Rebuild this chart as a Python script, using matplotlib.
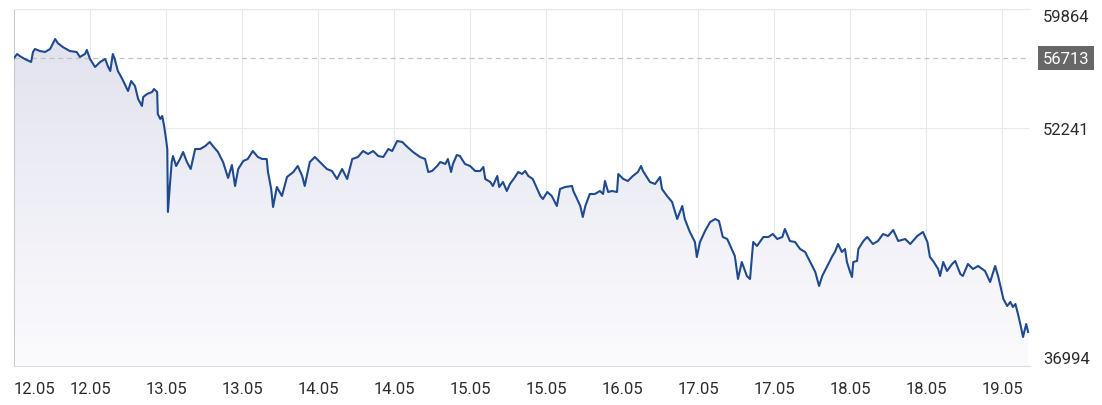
import matplotlib.pyplot as plt
import matplotlib.transforms as mtransforms
import numpy as np

# Hours since the start of the window (12.05 00:00) and the price at that time
hours = [
    0.0, 0.5, 0.9, 1.7, 2.7, 3.0, 3.3, 4.1, 4.9, 5.7, 6.5, 6.9, 7.7, 8.8, 9.9,
    10.4, 11.2, 11.5, 12.0, 12.8, 13.6, 14.4, 14.8, 15.2, 15.6, 15.9, 16.4, 17.1,
    17.7, 18.0, 18.5, 19.1, 19.6, 20.2, 20.4, 21.0, 21.8, 22.1, 22.6, 22.7, 23.1,
    23.4, 23.7, 24.0, 24.2, 24.3, 24.6, 24.9, 25.1, 25.6, 26.2, 26.7, 27.3, 27.9,
    28.6, 29.4, 30.2, 30.9, 31.4, 32.2, 33.0, 33.8, 34.4, 34.9, 35.4, 36.2, 36.9,
    37.7, 38.5, 39.2, 39.9, 40.1, 40.6, 40.9, 41.5, 42.3, 43.1, 44.1, 44.8, 45.5,
    45.9, 46.7, 47.5, 48.3, 49.4, 50.2, 51.0, 51.8, 52.6, 53.4, 54.3, 55.1, 55.9,
    56.7, 57.5, 58.3, 59.1, 59.7, 60.5, 61.3, 62.1, 63.0, 64.1, 64.9, 65.4, 66.0,
    66.8, 67.3, 68.1, 68.5, 69.0, 69.3, 69.9, 70.4, 71.2, 72.0, 72.8, 73.6, 74.1,
    74.4, 75.2, 75.6, 76.3, 76.6, 77.2, 77.8, 78.3, 79.1, 79.6, 80.2, 80.7, 81.2,
    81.9, 82.6, 83.1, 83.5, 84.2, 84.9, 85.7, 86.2, 87.0, 88.1, 88.3, 88.9, 89.4,
    89.8, 90.2, 90.9, 91.7, 92.5, 93.0, 93.3, 93.8, 94.4, 95.2, 95.4, 96.2, 96.9,
    97.7, 98.5, 99.0, 99.3, 100.4, 101.2, 102.0, 102.3, 103.1, 103.9, 104.7, 105.5,
    105.9, 106.7, 107.5, 107.8, 108.3, 109.1, 109.9, 110.7, 111.3, 111.9, 112.6,
    113.1, 113.8, 114.3, 114.9, 115.7, 116.2, 116.7, 117.3, 118.3, 119.1, 119.8,
    120.5, 121.3, 121.7, 122.5, 123.3, 124.1, 124.9, 125.7, 126.5, 127.1, 127.6,
    128.4, 129.2, 129.6, 130.1, 130.7, 131.2, 131.5, 132.0, 132.3, 132.5, 133.1,
    133.3, 134.1, 134.7, 135.6, 136.4, 137.2, 138.0, 138.8, 139.6, 140.7, 141.5,
    142.6, 143.5, 144.2, 144.6, 145.1, 145.9, 146.2, 146.7, 147.3, 148.1, 148.6,
    149.4, 149.8, 150.6, 151.4, 152.2, 153.3, 154.1, 154.9, 155.4, 156.2, 156.8,
    157.3, 157.7, 158.1, 158.5, 158.8, 159.3, 159.8, 160.1,
]
prices = [
    56725, 56981, 56853, 56661, 56469, 57109, 57302, 57173, 57109, 57302, 57942,
    57686, 57430, 57173, 57109, 56789, 56981, 57238, 56661, 56149, 56469, 56661,
    56213, 55892, 56981, 56661, 55892, 55380, 54867, 54611, 55252, 54931, 54099,
    53650, 54227, 54419, 54547, 54739, 54547, 53138, 52817, 53010, 52369, 51536,
    50896, 46860, 48525, 50063, 50447, 49807, 50255, 50703, 50063, 49614, 50896,
    50896, 51088, 51344, 51088, 50703, 50063, 49038, 49871, 48525, 49614, 50127,
    50255, 50767, 50383, 50255, 50255, 49422, 48333, 47180, 48461, 47885, 49102,
    49422, 49807, 49166, 48525, 50063, 50383, 50063, 49614, 49486, 48974, 49614,
    48974, 50255, 50383, 50767, 50575, 50767, 50447, 50383, 50896, 50767, 51408,
    51344, 51024, 50703, 50383, 50255, 49422, 49486, 49807, 50063, 49935, 50255,
    49422, 49935, 50511, 50447, 49935, 49807, 49486, 49486, 49743, 48974, 48782,
    48525, 49166, 48461, 48782, 48205, 48654, 49102, 49422, 49294, 49486, 49166,
    48974, 48333, 47885, 47693, 48141, 47885, 47244, 48333, 48461, 48525, 48205,
    47693, 47244, 46540, 47244, 48013, 48013, 48205, 48013, 48846, 48141, 48205,
    48141, 49294, 48974, 48846, 49166, 49422, 49807, 49486, 48782, 48654, 49102,
    48333, 47885, 47500, 46411, 47244, 46411, 45579, 44938, 43977, 44938, 45643,
    46219, 46411, 46283, 45258, 45130, 44682, 44041, 42568, 43657, 42760, 42568,
    44938, 44682, 45258, 45258, 45450, 45130, 45258, 45771, 45002, 44938, 44490,
    44297, 43657, 43016, 42119, 42760, 43401, 44041, 44297, 44810, 44297, 44490,
    43657, 43016, 42696, 43657, 43721, 44490, 45002, 45258, 44810, 45002, 45450,
    45322, 45707, 45002, 45130, 44810, 45322, 45579, 44938, 43977, 43721, 43208,
    42760, 43657, 43080, 43529, 43721, 42888, 42760, 43529, 43208, 43401, 43080,
    42376, 43401, 42696, 41287, 40838, 41094, 40774, 40966, 40326, 39813, 38852,
    39685, 39173,
]

tick_hours = [0, 12, 24, 36, 48, 60, 72, 84, 96, 108, 120, 132, 144, 156]
tick_labels = ['12.05', '12.05', '13.05', '13.05', '14.05', '14.05', '15.05',
               '15.05', '16.05', '17.05', '17.05', '18.05', '18.05', '19.05']
y_ticks = [36994, 52241, 59864]
marker_price = 56713

x_max = 160.4
line_color = '#1f4b8e'
grid_color = '#e9e9ec'
text_color = '#2b2b2b'

plt.rcParams['font.family'] = ['Roboto', 'DejaVu Sans']

fig = plt.figure(figsize=(11.02, 4.06), dpi=100)
ax = fig.add_axes([14 / 1102, 39 / 406, 1016 / 1102, 357 / 406])

# Gradient fill under the line, clipped to the area below the price curve
shade = np.linspace(0, 1, 256)[:, None, None]
top_rgb = np.array([0.88, 0.88, 0.932])
bottom_rgb = np.array([0.985, 0.985, 0.995])
gradient = top_rgb + (bottom_rgb - top_rgb) * shade
area = ax.fill_between(hours, prices, y_ticks[0], color='none', lw=0)
img = ax.imshow(gradient, extent=[0, x_max, y_ticks[0], y_ticks[-1]],
                aspect='auto', origin='upper', zorder=1)
img.set_clip_path(area.get_paths()[0], transform=ax.transData)

ax.plot(hours, prices, color=line_color, lw=1.5, zorder=3)

# Dashed reference line at the last value with a label box on the right
ax.axhline(marker_price, color='#c4c4c4', lw=0.9, ls=(0, (4, 3)), zorder=2)
label_trans = mtransforms.blended_transform_factory(ax.transAxes, ax.transData)
ax.text(1.0128, marker_price, str(marker_price), transform=label_trans,
        ha='left', va='center', color='white', fontsize=12,
        bbox=dict(boxstyle='square,pad=0.28', fc='#676767', ec='none'))

ax.set_xlim(0, x_max)
ax.set_ylim(y_ticks[0], y_ticks[-1])

ax.set_xticks(tick_hours)
ax.set_xticklabels(tick_labels)
ax.set_yticks(y_ticks)
ax.yaxis.tick_right()
ax.tick_params(axis='x', length=0, pad=11, labelsize=12, colors=text_color)
ax.tick_params(axis='y', length=0, pad=9.5, labelsize=12, colors=text_color)
ax.grid(True, color=grid_color, lw=0.8, zorder=0)
ax.set_axisbelow(True)

# First date label sits flush with the left edge, outer price labels stay inside
ax.xaxis.get_major_ticks()[0].label1.set_horizontalalignment('left')
y_major = ax.yaxis.get_major_ticks()
y_major[0].label2.set_verticalalignment('bottom')
y_major[-1].label2.set_verticalalignment('top')

ax.spines['right'].set_visible(False)
ax.spines['top'].set_color(grid_color)
ax.spines['bottom'].set_color('#dcdcdf')
ax.spines['left'].set_color('#cbcbcf')
for side in ['top', 'bottom', 'left']:
    ax.spines[side].set_linewidth(0.8)

fig.savefig('out.png', dpi=100)
